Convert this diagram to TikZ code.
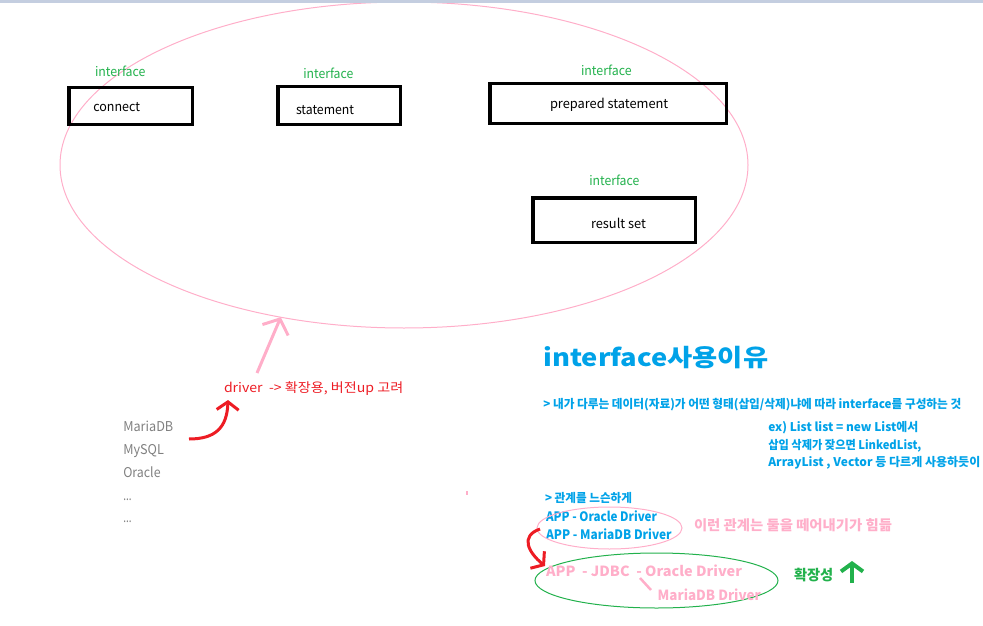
\documentclass[tikz,border=0pt]{standalone}
\usepackage{fontspec}
\usepackage{graphicx}
\usetikzlibrary{arrows.meta,shapes.geometric}
\setmainfont{Noto Sans CJK KR}

% colours
\definecolor{barblue}{RGB}{196,206,224}
\definecolor{rose}{RGB}{255,174,201}
\definecolor{ifgreen}{RGB}{34,177,76}
\definecolor{pred}{RGB}{237,28,36}
\definecolor{sky}{RGB}{0,162,232}
\definecolor{listgray}{RGB}{128,128,128}

% font size in px (1pt = 1px here)
\newcommand\fs[1]{\fontsize{#1}{#1}\selectfont}
% set a text at its natural height, stretched to a given width
\newsavebox\fitbox
\newcommand\fitto[2]{\sbox\fitbox{#2}\pgfmathsetmacro\fitratio{#1/\wd\fitbox}\scalebox{\fitratio}[1]{\usebox\fitbox}}

\tikzset{
  every node/.style={inner sep=0pt, outer sep=0pt},
  txt/.style={anchor=base west},
  iflabel/.style={txt, text=ifgreen, font=\fs{13}},
  boxtext/.style={txt, text=black, font=\fs{13}},
  ibox/.style={draw=black, line width=3.5pt},
  dblist/.style={txt, text=listgray, font=\fs{13.5}},
  note/.style={txt, text=sky, font=\bfseries\fs{12}},
  pinknote/.style={txt, text=rose, font=\bfseries\fs{14}},
  pinkarrow/.style={draw=rose, line width=3pt, -{Straight Barb[length=12pt,width=28pt]}},
  redarrow/.style={draw=pred, line width=3pt, -{Straight Barb[length=8pt,width=22pt]}},
  greenarrow/.style={draw=ifgreen, line width=4pt, -{Straight Barb[length=8pt,width=22pt]}},
}

\begin{document}
\begin{tikzpicture}[x=1pt, y=-1pt]
\useasboundingbox (0,0) rectangle (983,626);

% the JDBC interfaces, grouped in one big ellipse
\node[draw=rose, line width=1pt, ellipse, minimum width=688pt, minimum height=326pt] (scope) at (404,165) {};
\fill[barblue] (0,0) rectangle (983,3);

\node[iflabel] (if1) at (95,76.5) {\fitto{50.5}{interface}};
\node[ibox, minimum width=123.5pt, minimum height=36.5pt] (connectbox) at (130.5,106) {};
\node[boxtext] (connect) at (93.3,111.5) {\fitto{46.7}{connect}};

\node[iflabel] (if2) at (303.3,78.3) {\fitto{50}{interface}};
\node[ibox, minimum width=122.5pt, minimum height=37.5pt] (stmtbox) at (339,105.5) {};
\node[boxtext] (stmt) at (296,114.3) {\fitto{58}{statement}};

\node[iflabel] (if3) at (581,76) {\fitto{50.7}{interface}};
\node[ibox, minimum width=236.5pt, minimum height=39.5pt] (prepbox) at (608,103.5) {};
\node[boxtext] (prep) at (550,108.5) {\fitto{118.3}{prepared statement}};

\node[iflabel] (if4) at (589.3,185.7) {\fitto{50}{interface}};
\node[ibox, minimum width=162.5pt, minimum height=44.5pt] (rsbox) at (614,220) {};
\node[boxtext] (rs) at (591,228.3) {\fitto{55}{result set}};

% drivers
\node[txt, text=pred, font=\fs{13}] (driver) at (224,392) {\fitto{179.3}{driver\ \ -> 확장용, 버전up 고려}};
\node[dblist] (maria) at (123.3,431.7) {\fitto{50}{MariaDB}};
\node[dblist] (mysql) at (123.3,454.7) {\fitto{40.7}{MySQL}};
\node[dblist] (oracle) at (123.3,477.7) {\fitto{37.3}{Oracle}};
\node[dblist] (more1) at (123.3,500) {\fitto{8.3}{...}};
\node[dblist] (more2) at (123.3,522.5) {\fitto{8.3}{...}};

\coordinate (drvtail) at (257,373);
\draw[pinkarrow] (drvtail) -- (scope.231);
\coordinate (redtail) at (189,439);
\coordinate (redtip) at (228,400);
\draw[redarrow] (redtail) .. controls (215,439) and (227,428) .. (redtip);

\fill[rose] (465.5,491) rectangle (468,494.5);

% why interfaces
\node[txt, text=sky, font=\bfseries\fs{24}] (why) at (543.3,366) {\fitto{225}{interface사용이유}};
\node[note] (why1) at (543.3,408.5) {\fitto{418}{> 내가 다루는 데이터(자료)가 어떤 형태(삽입/삭제)냐에 따라 interface를 구성하는 것}};
\node[note] (ex1) at (768.3,431) {\fitto{150}{ex) List list = new List에서}};
\node[note] (ex2) at (768.3,449) {\fitto{153}{삽입 삭제가 잦으면 LinkedList,}};
\node[note] (ex3) at (768.3,466.5) {\fitto{212}{ArrayList , Vector 등 다르게 사용하듯이}};

\node[note] (loose) at (545,502) {\fitto{87}{> 관계를 느슨하게}};
\node[note, font=\bfseries\fs{13}] (app1) at (546,521.5) {\fitto{111}{APP - Oracle Driver}};
\node[note, font=\bfseries\fs{13}] (app2) at (546,539.5) {\fitto{125.7}{APP - MariaDB Driver}};
\node[draw=rose, line width=1pt, ellipse, minimum width=145pt, minimum height=42pt] (tight) at (609.5,528) {};
\node[pinknote] (hard) at (694,530) {\fitto{198}{이런 관계는 둘을 떼어내기가 힘듦}};

\coordinate (looptail) at (540,529);
\coordinate (looptip) at (545,566);
\draw[redarrow] (looptail) .. controls (520,536) and (528,552) .. (looptip);

\node[draw=ifgreen, line width=1pt, ellipse, minimum width=243pt, minimum height=55pt] (loosescope) at (656.5,580.5) {};
\node[pinknote] (jdbc) at (546,576.5) {\fitto{196}{APP\ \ - JDBC\ \ - Oracle Driver}};
\node[pinknote] (mariadrv) at (657.7,600.5) {\fitto{103}{MariaDB Driver}};
\coordinate (linkA) at (640,578);
\coordinate (linkB) at (651,590);
\draw[rose, line width=2.5pt] (linkA) -- (linkB);

\node[txt, text=ifgreen, font=\bfseries\fs{14.5}] (ext) at (794,580.5) {\fitto{39.3}{확장성}};
\coordinate (extfoot) at (852,583);
\coordinate (exthead) at (852,561);
\draw[greenarrow] (extfoot) -- (exthead);
\end{tikzpicture}
\end{document}
